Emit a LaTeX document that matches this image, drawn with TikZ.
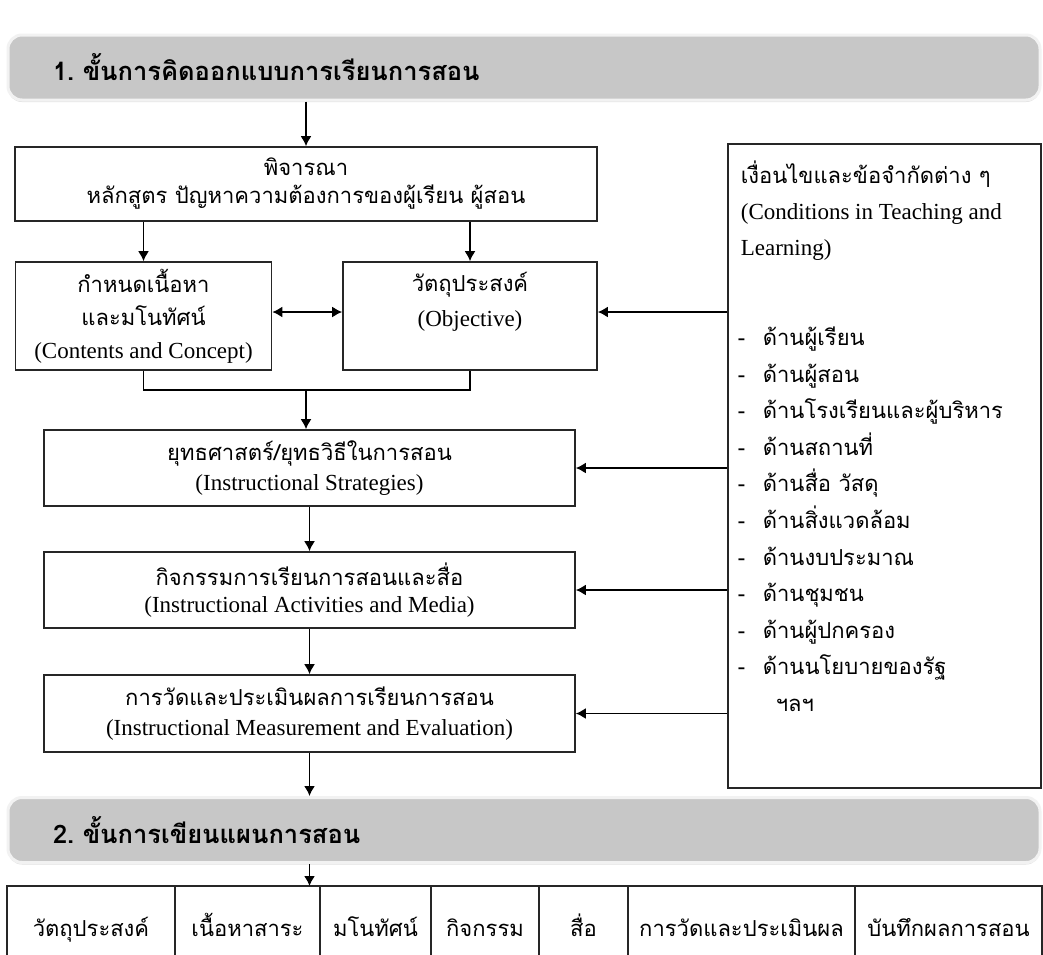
\documentclass[tikz,border=0pt]{standalone}
\usepackage{fontspec}
\setmainfont{Liberation Serif}
\newfontfamily\thaifont[Script=Thai]{Loma}
\usetikzlibrary{arrows.meta}
\usetikzlibrary{positioning,shadows}
\newcommand{\cnd}[1]{\makebox[25pt][l]{-}#1}

\begin{document}
\begin{tikzpicture}[%
        x=1pt, y=-1pt,
        every node/.style={inner sep=0pt, font=\fontsize{23}{30}\selectfont},
        th/.style={font=\thaifont\fontsize{22}{#1}\selectfont},
        box/.style={draw=black!85, line width=1.6pt, align=center},
        band/.style={rounded corners=14pt, fill=black!22, draw=black!5, line width=3pt,
          drop shadow={shadow xshift=0pt, shadow yshift=-2pt, opacity=.25},
          minimum width=1032pt, minimum height=65pt, inner xsep=45pt,
          text width=942pt, align=left, font=\thaifont\bfseries\fontsize{25.5}{28}\selectfont},
        cell/.style={draw=black!85, line width=1.6pt, outer sep=0pt, minimum height=90pt,
          text height=17pt, text depth=7pt, font=\thaifont\fontsize{22}{24}\selectfont},
        >={Latex[length=10pt,width=11pt]}, line width=1.7pt
      ]
      \path [use as bounding box, fill=white] (0,0) rectangle (1043,954);

      % banners
      \node [band] (b1) at (524,67.5) {1.\ ขั้นการคิดออกแบบการเรียนการสอน};
      \node [band] (b2) at (524,830) {2.\ ขั้นการเขียนแผนการสอน};

      % left column
      \node [box, minimum width=582pt, minimum height=74pt, th=28] (pj) at (306,184)
        {พิจารณา\\หลักสูตร ปัญหาความต้องการของผู้เรียน ผู้สอน};
      \node [box, minimum width=256pt, minimum height=108pt,
        font=\fontsize{23}{33}\selectfont] (cont) at (143.5,316)
        {{\thaifont\fontsize{22}{33}\selectfont กำหนดเนื้อหา}\\{\thaifont\fontsize{22}{33}\selectfont และมโนทัศน์}\\(Contents and Concept)};
      \node [box, minimum width=254pt, minimum height=108pt] (obj) at (470,316) {};
      \node [align=center, font=\fontsize{23}{35}\selectfont] (objt) at (470,302)
        {{\thaifont\fontsize{22}{35}\selectfont วัตถุประสงค์}\\(Objective)};
      \node [box, minimum width=531pt, minimum height=76pt] (strat) at (309.5,468)
        {{\thaifont\fontsize{22}{30}\selectfont ยุทธศาสตร์/ยุทธวิธีในการสอน}\\(Instructional Strategies)};
      \node [box, minimum width=531pt, minimum height=76pt,
        font=\fontsize{23}{27}\selectfont] (act) at (309.5,590)
        {{\thaifont\fontsize{22}{27}\selectfont กิจกรรมการเรียนการสอนและสื่อ}\\(Instructional Activities and Media)};
      \node [box, minimum width=531pt, minimum height=77pt] (eval) at (309.5,713.5)
        {{\thaifont\fontsize{22}{30}\selectfont การวัดและประเมินผลการเรียนการสอน}\\(Instructional Measurement and Evaluation)};

      % conditions
      \node [box, minimum width=313pt, minimum height=644pt] (cond) at (884.5,466) {};
      \node [anchor=north west, align=left, font=\fontsize{23}{36}\selectfont] (condt) at (740,160)
        {{\thaifont\fontsize{22}{36}\selectfont เงื่อนไขและข้อจำกัดต่าง ๆ}\\(Conditions in Teaching and\\Learning)};
      \node [anchor=north west, align=left, th=36.6] (list) at (737,326)
        {\cnd{ด้านผู้เรียน}\\\cnd{ด้านผู้สอน}\\\cnd{ด้านโรงเรียนและผู้บริหาร}\\
         \cnd{ด้านสถานที่}\\\cnd{ด้านสื่อ วัสดุ}\\\cnd{ด้านสิ่งแวดล้อม}\\
         \cnd{ด้านงบประมาณ}\\\cnd{ด้านชุมชน}\\\cnd{ด้านผู้ปกครอง}\\
         \cnd{ด้านนโยบายของรัฐ}\\\hspace{38pt}ฯลฯ};

      % lesson plan table
      \node [cell, minimum width=168pt, anchor=west] (c1) at (7,931) {วัตถุประสงค์};
      \node [cell, minimum width=145pt, right=0pt of c1] (c2) {เนื้อหาสาระ};
      \node [cell, minimum width=111pt, right=0pt of c2] (c3) {มโนทัศน์};
      \node [cell, minimum width=108pt, right=0pt of c3] (c4) {กิจกรรม};
      \node [cell, minimum width=89pt, right=0pt of c4] (c5) {สื่อ};
      \node [cell, minimum width=227pt, right=0pt of c5] (c6) {การวัดและประเมินผล};
      \node [cell, minimum width=187pt, right=0pt of c6] (c7) {บันทึกผลการสอน};

      \coordinate (m) at (306,390);
      \draw (cont.south) -- (cont.south |- m) -| (obj.south);
      \path [draw] (pj.north |- b1.south) edge[->] (pj.north)
      (cont.north |- pj.south) edge[->] (cont.north)
      (obj.north |- pj.south) edge[->] (obj.north)
      ([yshift=4pt]cont.east) edge[<->] ([yshift=4pt]obj.west)
      (m) edge[->] (m |- strat.north)
      (strat) edge[->] (act)
      (act) edge[->] (eval)
      (eval.south) edge[->] (eval.south |- b2.north)
      (eval.south |- b2.south) edge[->] (eval.south |- c2.north)
      ([yshift=4pt]obj.east -| cond.west) edge[->] ([yshift=4pt]obj.east)
      (cond.west |- strat.east) edge[->] (strat.east)
      (cond.west |- act.east) edge[->] (act.east)
      (cond.west |- eval.east) edge[->] (eval.east);
    \end{tikzpicture}
\end{document}
